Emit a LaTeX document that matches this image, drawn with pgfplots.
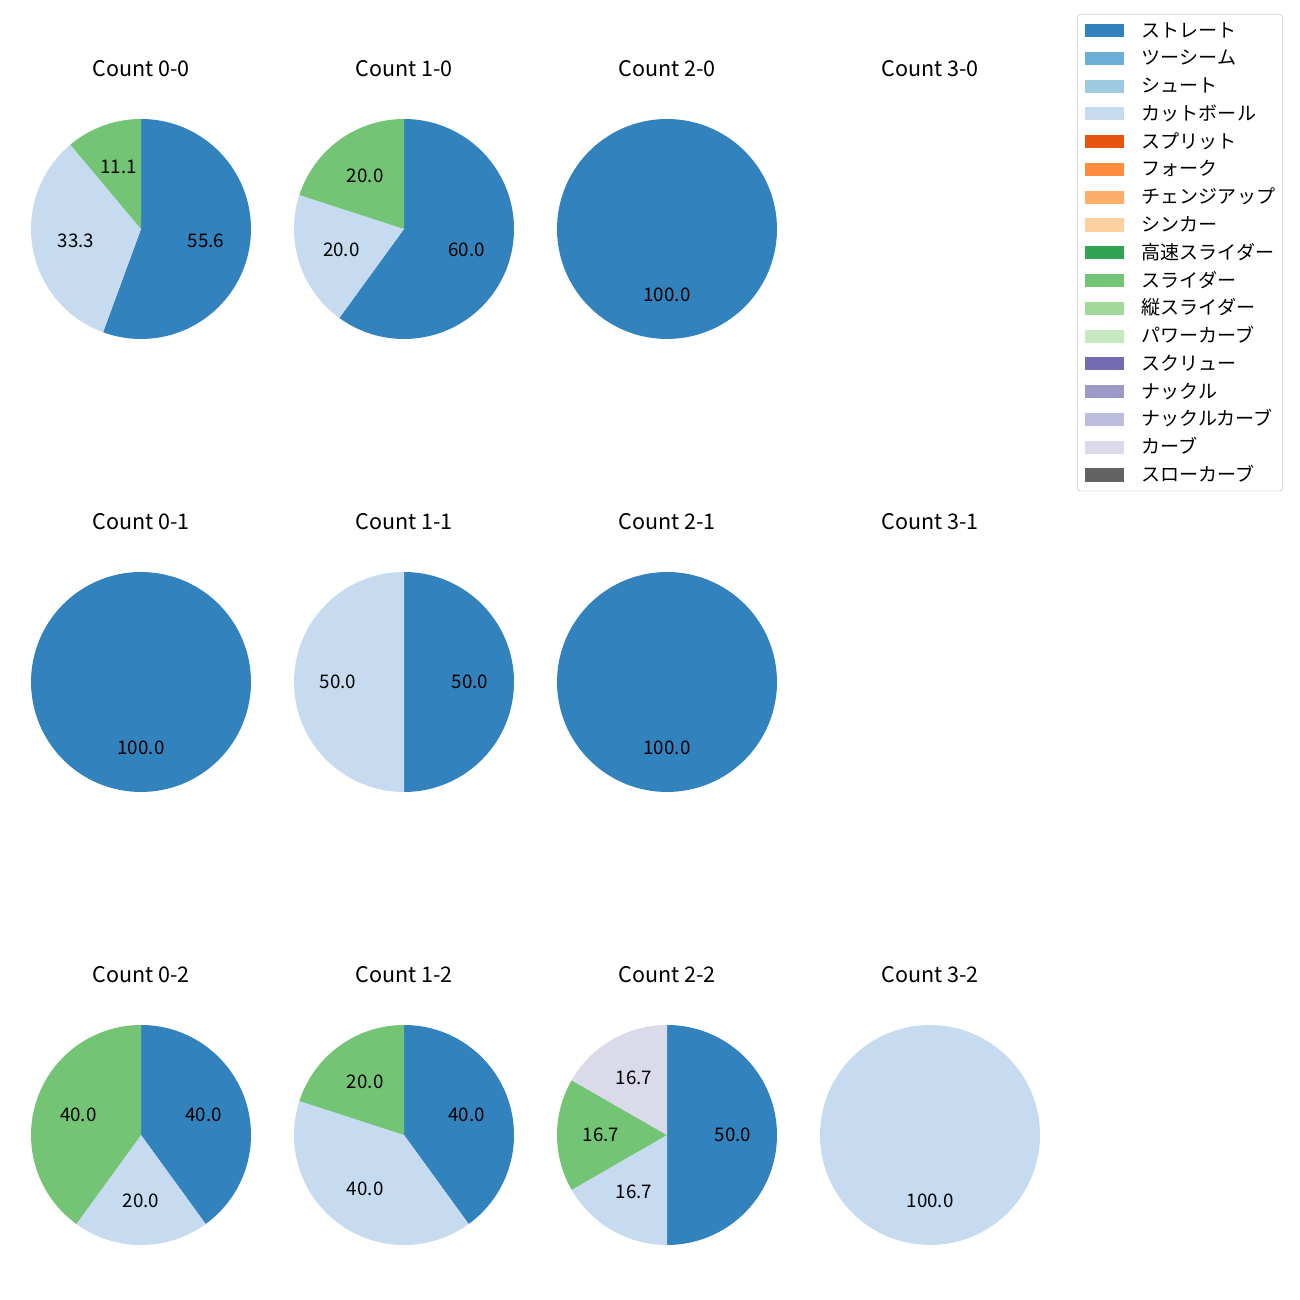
\documentclass[border=0pt]{standalone}
\usepackage{pgfplots}
\pgfplotsset{compat=1.18}
\usepackage{fontspec}
\setmainfont{Noto Sans CJK JP}
\definecolor{c1}{HTML}{3182BD}
\definecolor{c2}{HTML}{6BAED6}
\definecolor{c3}{HTML}{9ECAE1}
\definecolor{c4}{HTML}{C6DBEF}
\definecolor{c5}{HTML}{E6550D}
\definecolor{c6}{HTML}{FD8D3C}
\definecolor{c7}{HTML}{FDAE6B}
\definecolor{c8}{HTML}{FDD0A2}
\definecolor{c9}{HTML}{31A354}
\definecolor{c10}{HTML}{74C476}
\definecolor{c11}{HTML}{A1D99B}
\definecolor{c12}{HTML}{C7E9C0}
\definecolor{c13}{HTML}{756BB1}
\definecolor{c14}{HTML}{9E9AC8}
\definecolor{c15}{HTML}{BCBDDC}
\definecolor{c16}{HTML}{DADAEB}
\definecolor{c17}{HTML}{636363}
\newcommand\titlefont{\fontsize{15.5}{18}\selectfont}
\newcommand\lblfont{\fontsize{13.5}{16}\selectfont}
\newcommand\legfont{\fontsize{13.7}{16}\selectfont}
% slice: start %, end %, colour
\newcommand\slice[3]{\addplot[fill=#3, draw=none, domain={90-3.6*(#2)}:{90-3.6*(#1)}, samples=120, variable=\t] ({cos(\t)},{sin(\t)}) -- (axis cs:0,0) -- cycle;}
% label: start %, end %, text
\newcommand\lab[3]{\node[font=\lblfont] at (axis cs:{0.6*cos(90-1.8*(#1+#2))},{0.6*sin(90-1.8*(#1+#2))}) {#3};}
\newcommand\ttl[1]{\node[font=\titlefont] at (axis cs:0,1.455) {#1};}
\pgfplotsset{pie/.style={hide axis, scale only axis, width=158.4pt, height=158.4pt,
  xmin=-1, xmax=1, ymin=-1, ymax=1, clip=false, anchor=center}}
% canvas: 1300 px = 936 pt; columns x = 101.52, 290.88, 480.24, 669.6 pt
% rows y = 771.12, 444.96, 118.8 pt
\begin{document}
\begin{tikzpicture}
\path (0pt,0pt) rectangle (936pt,936pt);
% Row 1
\begin{axis}[pie, at={(101.52pt,771.12pt)}]
\slice{0}{55.6}{c1}\slice{55.6}{88.9}{c4}\slice{88.9}{100}{c10}
\lab{0}{55.6}{55.6}\lab{55.6}{88.9}{33.3}\lab{88.9}{100}{11.1}
\ttl{Count 0-0}
\end{axis}
\begin{axis}[pie, at={(290.88pt,771.12pt)}]
\slice{0}{60}{c1}\slice{60}{80}{c4}\slice{80}{100}{c10}
\lab{0}{60}{60.0}\lab{60}{80}{20.0}\lab{80}{100}{20.0}
\ttl{Count 1-0}
\end{axis}
\begin{axis}[pie, at={(480.24pt,771.12pt)}]
\slice{0}{100}{c1}
\lab{0}{100}{100.0}
\ttl{Count 2-0}
\end{axis}
\begin{axis}[pie, at={(669.6pt,771.12pt)}]
\ttl{Count 3-0}
\end{axis}
% Row 2
\begin{axis}[pie, at={(101.52pt,444.96pt)}]
\slice{0}{100}{c1}
\lab{0}{100}{100.0}
\ttl{Count 0-1}
\end{axis}
\begin{axis}[pie, at={(290.88pt,444.96pt)}]
\slice{0}{50}{c1}\slice{50}{100}{c4}
\lab{0}{50}{50.0}\lab{50}{100}{50.0}
\ttl{Count 1-1}
\end{axis}
\begin{axis}[pie, at={(480.24pt,444.96pt)}]
\slice{0}{100}{c1}
\lab{0}{100}{100.0}
\ttl{Count 2-1}
\end{axis}
\begin{axis}[pie, at={(669.6pt,444.96pt)}]
\ttl{Count 3-1}
\end{axis}
% Row 3
\begin{axis}[pie, at={(101.52pt,118.8pt)}]
\slice{0}{40}{c1}\slice{40}{60}{c4}\slice{60}{100}{c10}
\lab{0}{40}{40.0}\lab{40}{60}{20.0}\lab{60}{100}{40.0}
\ttl{Count 0-2}
\end{axis}
\begin{axis}[pie, at={(290.88pt,118.8pt)}]
\slice{0}{40}{c1}\slice{40}{80}{c4}\slice{80}{100}{c10}
\lab{0}{40}{40.0}\lab{40}{80}{40.0}\lab{80}{100}{20.0}
\ttl{Count 1-2}
\end{axis}
\begin{axis}[pie, at={(480.24pt,118.8pt)}]
\slice{0}{50}{c1}\slice{50}{66.7}{c4}\slice{66.7}{83.3}{c10}\slice{83.3}{100}{c16}
\lab{0}{50}{50.0}\lab{50}{66.7}{16.7}\lab{66.7}{83.3}{16.7}\lab{83.3}{100}{16.7}
\ttl{Count 2-2}
\end{axis}
\begin{axis}[pie, at={(669.6pt,118.8pt)}]
\slice{0}{100}{c4}
\lab{0}{100}{100.0}
\ttl{Count 3-2}
\end{axis}
% Legend
\begin{axis}[hide axis, scale only axis, width=10pt, height=10pt,
  xmin=0, xmax=1, ymin=0, ymax=1, at={(775.44pt,925.6pt)}, anchor=north west,
  legend cell align=left,
  legend image code/.code={\fill[#1, sharp corners] (0pt,-4.7pt) rectangle (28pt,4.7pt);},
  legend style={at={(0,1)}, anchor=north west, draw=black!20, rounded corners=2pt,
    font=\legfont, row sep=6.6pt, column sep=13pt, inner xsep=5.5pt, inner ysep=4.7pt,
    nodes={inner xsep=0pt, inner ysep=0pt, text height=11.4pt, text depth=2pt}}]
\addlegendimage{fill=c1, draw=none}\addlegendentry{ストレート}
\addlegendimage{fill=c2, draw=none}\addlegendentry{ツーシーム}
\addlegendimage{fill=c3, draw=none}\addlegendentry{シュート}
\addlegendimage{fill=c4, draw=none}\addlegendentry{カットボール}
\addlegendimage{fill=c5, draw=none}\addlegendentry{スプリット}
\addlegendimage{fill=c6, draw=none}\addlegendentry{フォーク}
\addlegendimage{fill=c7, draw=none}\addlegendentry{チェンジアップ}
\addlegendimage{fill=c8, draw=none}\addlegendentry{シンカー}
\addlegendimage{fill=c9, draw=none}\addlegendentry{高速スライダー}
\addlegendimage{fill=c10, draw=none}\addlegendentry{スライダー}
\addlegendimage{fill=c11, draw=none}\addlegendentry{縦スライダー}
\addlegendimage{fill=c12, draw=none}\addlegendentry{パワーカーブ}
\addlegendimage{fill=c13, draw=none}\addlegendentry{スクリュー}
\addlegendimage{fill=c14, draw=none}\addlegendentry{ナックル}
\addlegendimage{fill=c15, draw=none}\addlegendentry{ナックルカーブ}
\addlegendimage{fill=c16, draw=none}\addlegendentry{カーブ}
\addlegendimage{fill=c17, draw=none}\addlegendentry{スローカーブ}
\end{axis}
\end{tikzpicture}
\end{document}
